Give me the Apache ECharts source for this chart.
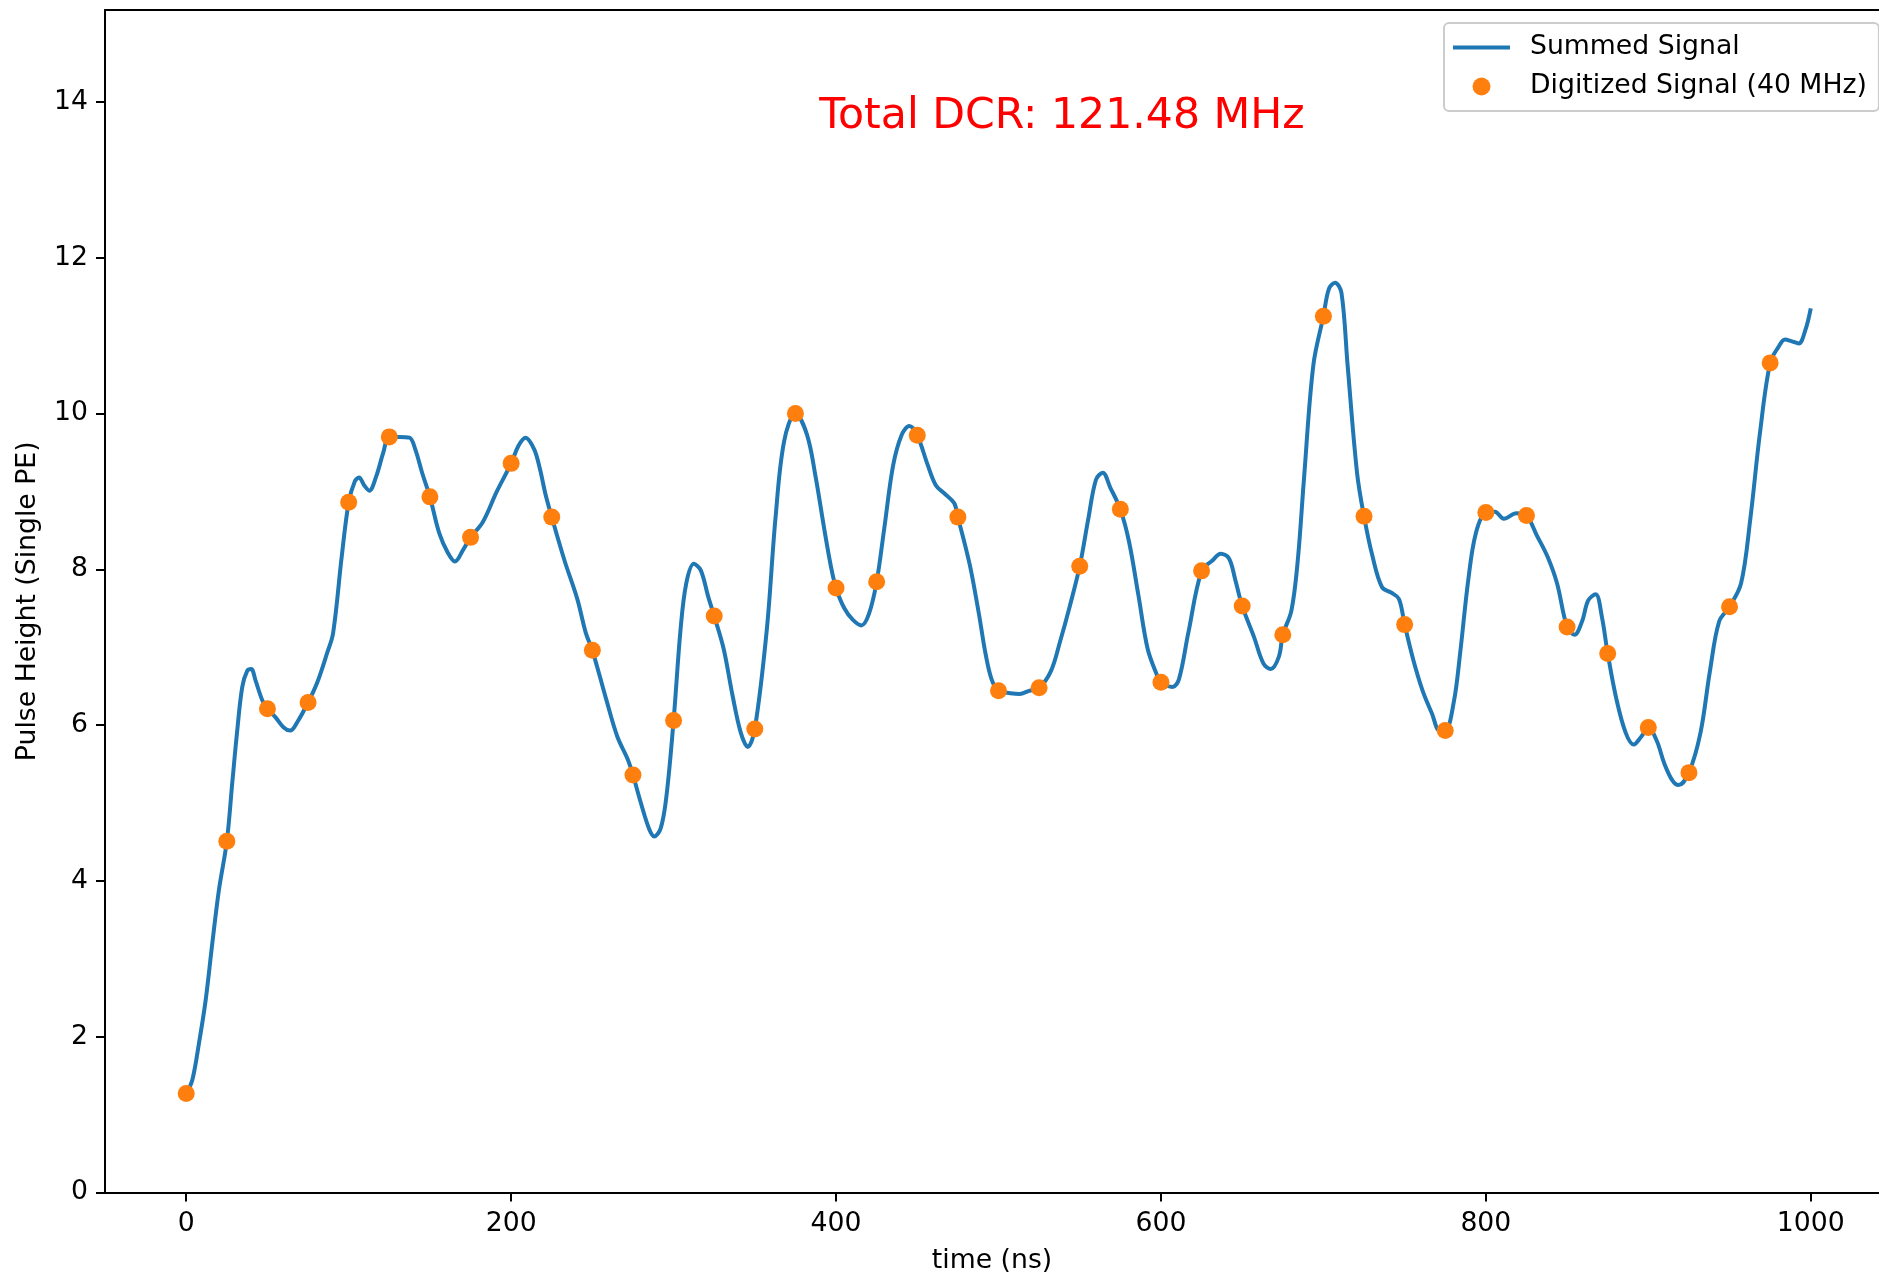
<!DOCTYPE html>
<html>
<head>
<meta charset="utf-8">
<title>Summed Signal</title>
<script src="https://cdn.jsdelivr.net/npm/echarts@6/dist/echarts.min.js"></script>
<style>
  html, body { margin: 0; padding: 0; background: #fff; }
  #signal { width: 1879px; height: 1276px; }
</style>
</head>
<body>
<div id="signal"></div>
<script>
// summed signal (time in ns, height in single PE)
const curveTime = [
  0, 3.7, 7.8, 11.9, 16, 20.1, 25, 28.3, 31.4, 34.5, 37.6, 40, 42.7, 46.8, 50,
  55, 60, 64, 68.4, 75, 80.7, 86.8, 90.4, 95.7, 100, 103.8, 106.4, 109.5, 112.7,
  116.9, 121.2, 125, 131, 137.4, 141, 145.2, 150, 155.8, 161.1, 165.4, 170.7,
  175, 182.4, 191.2, 200, 204.6, 208.9, 214.2, 217.7, 221.3, 225, 232.9, 240.7,
  246, 250, 258.4, 265.4, 271.8, 275, 279.6, 284.9, 288.1, 292, 295.5, 300,
  304.3, 307.8, 312.5, 316.7, 321.3, 325, 330.8, 336.2, 341.4, 345.7, 350,
  357.4, 362.7, 368, 375, 382.1, 387.4, 392.8, 397, 400, 405.1, 410.4, 415.7,
  420.3, 425, 429.9, 435.2, 440.5, 445.1, 450, 456.4, 461.4, 466.9, 472.7, 475,
  482.3, 488, 491.9, 495.7, 500, 507.3, 513, 518.8, 525, 532.2, 538, 543.8, 550,
  555.3, 560, 564.2, 568.8, 575, 580.3, 586.1, 591.8, 597.6, 600, 607.2, 611.1,
  616.8, 625, 631.5, 636.8, 641.9, 645.7, 650, 657.3, 663.1, 667.6, 672.6, 675,
  680.3, 684.2, 688, 693.8, 700, 703.4, 707.2, 711.1, 714.9, 720.7, 725, 730.3,
  736.1, 741.8, 746.5, 750, 755.3, 761.1, 766.8, 771.5, 775, 780.3, 784.2,
  789.2, 793.8, 800, 805.5, 811.1, 818.8, 825, 831.5, 838, 843.8, 850, 854.6,
  859.2, 863, 867.6, 871.5, 875, 880.3, 886.1, 891, 895.6, 900, 905.2, 909.8,
  914.8, 918.6, 925, 932.1, 937.9, 943.6, 950, 957.1, 962.8, 968.6, 975, 980.3,
  984.1, 988, 992.6, 996.8, 1000
];
const curveValue = [
  1.27, 1.44, 1.91, 2.46, 3.19, 3.88, 4.51, 5.25, 5.93, 6.49, 6.70, 6.72, 6.57, 6.32, 6.21,
  6.10, 5.97, 5.93, 6.04, 6.29, 6.55, 6.93, 7.18, 8.16, 8.86, 9.13, 9.18, 9.08, 9.01,
  9.19, 9.49, 9.70, 9.70, 9.69, 9.54, 9.24, 8.93, 8.46, 8.21, 8.10, 8.26,
  8.41, 8.60, 9.00, 9.36, 9.59, 9.69, 9.54, 9.29, 8.95, 8.67, 8.11, 7.62,
  7.18, 6.96, 6.34, 5.85, 5.56, 5.36, 5.02, 4.67, 4.57, 4.67, 5.07, 6.06,
  7.23, 7.82, 8.07, 7.99, 7.65, 7.40, 6.98, 6.39, 5.90, 5.72, 5.95,
  7.23, 8.65, 9.64, 10.00, 9.73, 9.19, 8.51, 8.02, 7.76, 7.50, 7.35, 7.28,
  7.43, 7.84, 8.56, 9.34, 9.73, 9.84, 9.72, 9.34, 9.08, 8.97, 8.85, 8.67,
  8.06, 7.42, 6.93, 6.59, 6.44, 6.41, 6.40, 6.44, 6.48, 6.69, 7.08, 7.52, 8.04,
  8.65, 9.15, 9.24, 9.05, 8.77, 8.36, 7.67, 6.98, 6.64, 6.55, 6.49, 6.59,
  7.18, 7.98, 8.11, 8.20, 8.14, 7.87, 7.53, 7.13, 6.79, 6.72, 6.88, 7.16,
  7.47, 8.11, 9.15, 10.62, 11.25, 11.60, 11.68, 11.55, 10.62, 9.24, 8.68, 8.16,
  7.77, 7.70, 7.62, 7.29, 6.84, 6.44, 6.15, 5.93, 5.93, 6.30, 6.93,
  7.87, 8.46, 8.73, 8.74, 8.65, 8.72, 8.69, 8.43, 8.16, 7.82, 7.26, 7.16,
  7.33, 7.60, 7.68, 7.38, 6.92, 6.34, 5.90, 5.75, 5.85, 5.97, 5.80, 5.51,
  5.29, 5.23, 5.39, 5.90, 6.69, 7.33, 7.52, 7.82, 8.65, 9.73, 10.65, 10.86,
  10.95, 10.93, 10.90, 11.08, 11.35
];

// digitized samples (40 MHz -> every 25 ns)
const sampleTime = [
  0, 25, 50, 75, 100, 125, 150, 175, 200, 225, 250, 275, 300, 325, 350, 375,
  400, 425, 450, 475, 500, 525, 550, 575, 600, 625, 650, 675, 700, 725, 750,
  775, 800, 825, 850, 875, 900, 925, 950, 975
];
const sampleValue = [
  1.27, 4.51, 6.21, 6.29, 8.86, 9.70, 8.93, 8.41, 9.36, 8.67, 6.96, 5.36, 6.06,
  7.40, 5.95, 10.00, 7.76, 7.84, 9.72, 8.67, 6.44, 6.48, 8.04, 8.77, 6.55, 7.98,
  7.53, 7.16, 11.25, 8.68, 7.29, 5.93, 8.73, 8.69, 7.26, 6.92, 5.97, 5.39, 7.52,
  10.65
];

const xTicks = [0, 200, 400, 600, 800, 1000];
const yTicks = [0, 2, 4, 6, 8, 10, 12, 14];
const dcrText = "Total DCR: 121.48 MHz";

const FONT = "DejaVu Sans";
const FS = 26.7;
// plot is cut at the right edge of the figure, so the x range stops short of 1050
const X_MIN = -50;
const X_MAX = 1042;

var chart = echarts.init(document.getElementById("signal"));

let summed = curveTime.map((t, i) => [t, curveValue[i]]);
let digitized = sampleTime.map((t, i) => [t, sampleValue[i]]);

const blackLine = { color: "#000", width: 2 };

chart.setOption({
  animation: false,
  textStyle: { fontFamily: FONT },
  grid: {
    left: 105,
    top: 10,
    right: 0,
    bottom: 83.5,
    outerBoundsMode: "none",
    containLabel: false,
  },
  legend: {
    orient: "vertical",
    left: 1444,
    top: 23,
    padding: [11, 12, 11, 9],
    itemWidth: 57,
    itemHeight: 18,
    itemGap: 12,
    backgroundColor: "rgba(255,255,255,0.8)",
    borderColor: "#cccccc",
    borderWidth: 2,
    borderRadius: 5,
    textStyle: {
      fontFamily: FONT,
      fontSize: FS,
      color: "#000",
      padding: [0, 0, 0, 15],
    },
    data: [
      {
        name: "Summed Signal",
        icon: "path://M0,0 L57,0 L57,4 L0,4 Z",
        itemStyle: { color: "#1f77b4", borderWidth: 0 },
      },
      { name: "Digitized Signal (40 MHz)", icon: "circle" },
    ],
  },
  xAxis: [
    {
      type: "value",
      min: X_MIN,
      max: X_MAX,
      name: "time (ns)",
      nameLocation: "middle",
      nameGap: 55,
      nameTextStyle: { fontFamily: FONT, fontSize: FS, color: "#000" },
      axisLine: { onZero: false, lineStyle: blackLine },
      axisTick: {
        show: true,
        length: 9,
        customValues: xTicks,
        lineStyle: blackLine,
      },
      axisLabel: {
        customValues: xTicks,
        margin: 18,
        fontFamily: FONT,
        fontSize: FS,
        color: "#000",
        formatter: (v) => String(v),
      },
      splitLine: { show: false },
    },
    {
      // top spine only
      type: "value",
      position: "top",
      min: X_MIN,
      max: X_MAX,
      axisLine: { show: true, onZero: false, lineStyle: blackLine },
      axisTick: { show: false },
      axisLabel: { show: false },
      splitLine: { show: false },
    },
  ],
  yAxis: {
    type: "value",
    min: 0,
    max: 15.18,
    name: "Pulse Height (Single PE)",
    nameLocation: "middle",
    nameGap: 63,
    nameTextStyle: { fontFamily: FONT, fontSize: FS, color: "#000" },
    axisLine: { show: true, onZero: false, lineStyle: blackLine },
    axisTick: {
      show: true,
      length: 9,
      customValues: yTicks,
      lineStyle: blackLine,
    },
    axisLabel: {
      customValues: yTicks,
      margin: 17,
      fontFamily: FONT,
      fontSize: FS,
      color: "#000",
    },
    splitLine: { show: false },
  },
  graphic: [
    {
      type: "text",
      x: 1062,
      y: 117,
      style: {
        text: dcrText,
        fill: "#ff0000",
        font: "42.6px 'DejaVu Sans'",
        textAlign: "center",
        textVerticalAlign: "middle",
      },
      z: 10,
    },
  ],
  series: [
    {
      name: "Summed Signal",
      type: "line",
      data: summed,
      smooth: 0.35,
      showSymbol: false,
      symbol: "none",
      lineStyle: { color: "#1f77b4", width: 4 },
      itemStyle: { color: "#1f77b4" },
      z: 2,
    },
    {
      name: "Digitized Signal (40 MHz)",
      type: "scatter",
      data: digitized,
      symbolSize: 17,
      itemStyle: { color: "#ff7f0e", opacity: 1 },
      z: 3,
    },
  ],
});
</script>
</body>
</html>
